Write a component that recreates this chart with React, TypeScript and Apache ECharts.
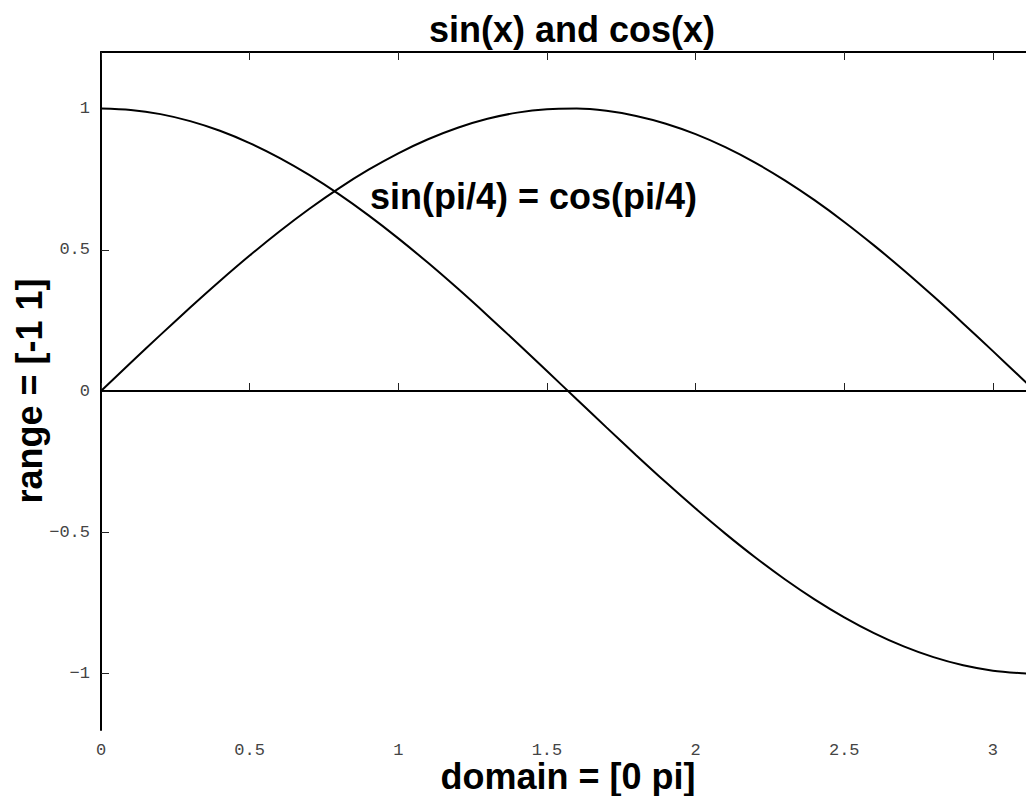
import React, { useEffect, useRef } from "react";
import * as echarts from "echarts";

const xValues = [0, 0.1, 0.2, 0.3, 0.4, 0.5, 0.6, 0.7, 0.8, 0.9, 1.0, 1.1, 1.2, 1.3, 1.4, 1.5, 1.6, 1.7, 1.8, 1.9, 2.0, 2.1, 2.2, 2.3, 2.4, 2.5, 2.6, 2.7, 2.8, 2.9, 3.0, 3.1, 3.14159];
const sinValues = [0, 0.0998, 0.1987, 0.2955, 0.3894, 0.4794, 0.5646, 0.6442, 0.7174, 0.7833, 0.8415, 0.8912, 0.932, 0.9636, 0.9854, 0.9975, 0.9996, 0.9917, 0.9738, 0.9463, 0.9093, 0.8632, 0.8085, 0.7457, 0.6755, 0.5985, 0.5155, 0.4274, 0.335, 0.2392, 0.1411, 0.0416, 0];
const cosValues = [1, 0.995, 0.9801, 0.9553, 0.9211, 0.8776, 0.8253, 0.7648, 0.6967, 0.6216, 0.5403, 0.4536, 0.3624, 0.2675, 0.17, 0.0707, -0.0292, -0.1288, -0.2272, -0.3233, -0.4161, -0.5048, -0.5885, -0.6663, -0.7374, -0.8011, -0.8569, -0.9041, -0.9422, -0.971, -0.99, -0.9991, -1];
const zeroLine = [[0, 0], [3.14159, 0]];
const xTicks = [0, 0.5, 1, 1.5, 2, 2.5, 3];
const yTicks = [-1, -0.5, 0, 0.5, 1];
const titleText = "sin(x) and cos(x)";
const xLabel = "domain = [0 pi]";
const yLabel = "range = [-1 1]";
const annotation = "sin(pi/4) = cos(pi/4)";

const SANS = "'Liberation Sans', Arial, Helvetica, sans-serif";
const MONO = "'Liberation Mono', 'DejaVu Sans Mono', monospace";

const fmt = (v: number) => String(v).replace("-", "\u2212");

export default function App() {
  const ref = useRef<HTMLDivElement>(null);
  useEffect(() => {
    if (!ref.current) return;
    const chart = echarts.init(ref.current, null, { renderer: "svg" });
    const pairs = (ys: number[]) => xValues.map((x, i) => [x, ys[i]]);
    const tickStyle = { show: true, inside: true, length: 8, lineStyle: { color: "#222", width: 1 } };
    chart.setOption({
      animation: false,
      backgroundColor: "#ffffff",
      title: {
        text: titleText,
        left: 567,
        top: 6,
        textAlign: "center",
        textStyle: { fontFamily: SANS, fontWeight: "bold", fontSize: 36, color: "#000" },
      },
      grid: { left: 101, top: 52, width: 934, height: 678, containLabel: false, outerBoundsMode: "none" },
      xAxis: [
        {
          type: "value",
          min: 0,
          max: 3.14159,
          position: "bottom",
          splitLine: { show: false },
          axisLine: { show: true, lineStyle: { color: "#000", width: 2 } },
          axisTick: { ...tickStyle, customValues: xTicks },
          axisLabel: {
            customValues: xTicks,
            margin: 13,
            lineHeight: 14,
            color: "#444",
            fontFamily: MONO,
            fontSize: 17,
            formatter: fmt,
          },
          name: xLabel,
          nameLocation: "middle",
          nameGap: 31,
          nameMoveOverlap: false,
          nameTextStyle: { fontFamily: SANS, fontWeight: "bold", fontSize: 36, lineHeight: 30, color: "#000" },
        },
        {
          type: "value",
          min: 0,
          max: 3.14159,
          position: "top",
          splitLine: { show: false },
          axisLine: { show: true, lineStyle: { color: "#000", width: 2 } },
          axisTick: { ...tickStyle, customValues: xTicks },
          axisLabel: { show: false },
        },
      ],
      yAxis: {
        type: "value",
        min: -1.2,
        max: 1.2,
        position: "left",
        splitLine: { show: false },
        axisLine: { show: true, lineStyle: { color: "#000", width: 2 } },
        axisTick: { ...tickStyle, customValues: yTicks },
        axisLabel: {
          customValues: yTicks,
          margin: 11,
          color: "#444",
          fontFamily: MONO,
          fontSize: 17,
          formatter: fmt,
        },
        name: yLabel,
        nameLocation: "middle",
        nameRotate: 90,
        nameGap: 54,
        nameMoveOverlap: false,
        nameTextStyle: { fontFamily: SANS, fontWeight: "bold", fontSize: 36, color: "#000" },
      },
      series: [
        {
          name: "zero",
          type: "line",
          data: zeroLine,
          showSymbol: false,
          lineStyle: { color: "#000", width: 1.5 },
          silent: true,
        },
        {
          name: "sin",
          type: "line",
          data: pairs(sinValues),
          showSymbol: false,
          smooth: 0.3,
          lineStyle: { color: "#000", width: 2 },
        },
        {
          name: "cos",
          type: "line",
          data: pairs(cosValues),
          showSymbol: false,
          smooth: 0.3,
          lineStyle: { color: "#000", width: 2 },
        },
      ],
      graphic: [
        {
          type: "text",
          left: 370,
          top: 178,
          style: {
            text: annotation,
            fontFamily: SANS,
            fontWeight: "bold",
            fontSize: 36,
            fill: "#000",
          },
        },
      ],
    });
    return () => chart.dispose();
  }, []);
  return (
    <div
      ref={ref}
      style={{ position: "absolute", left: 0, top: 0, width: 1026, height: 796, overflow: "hidden" }}
    />
  );
}
